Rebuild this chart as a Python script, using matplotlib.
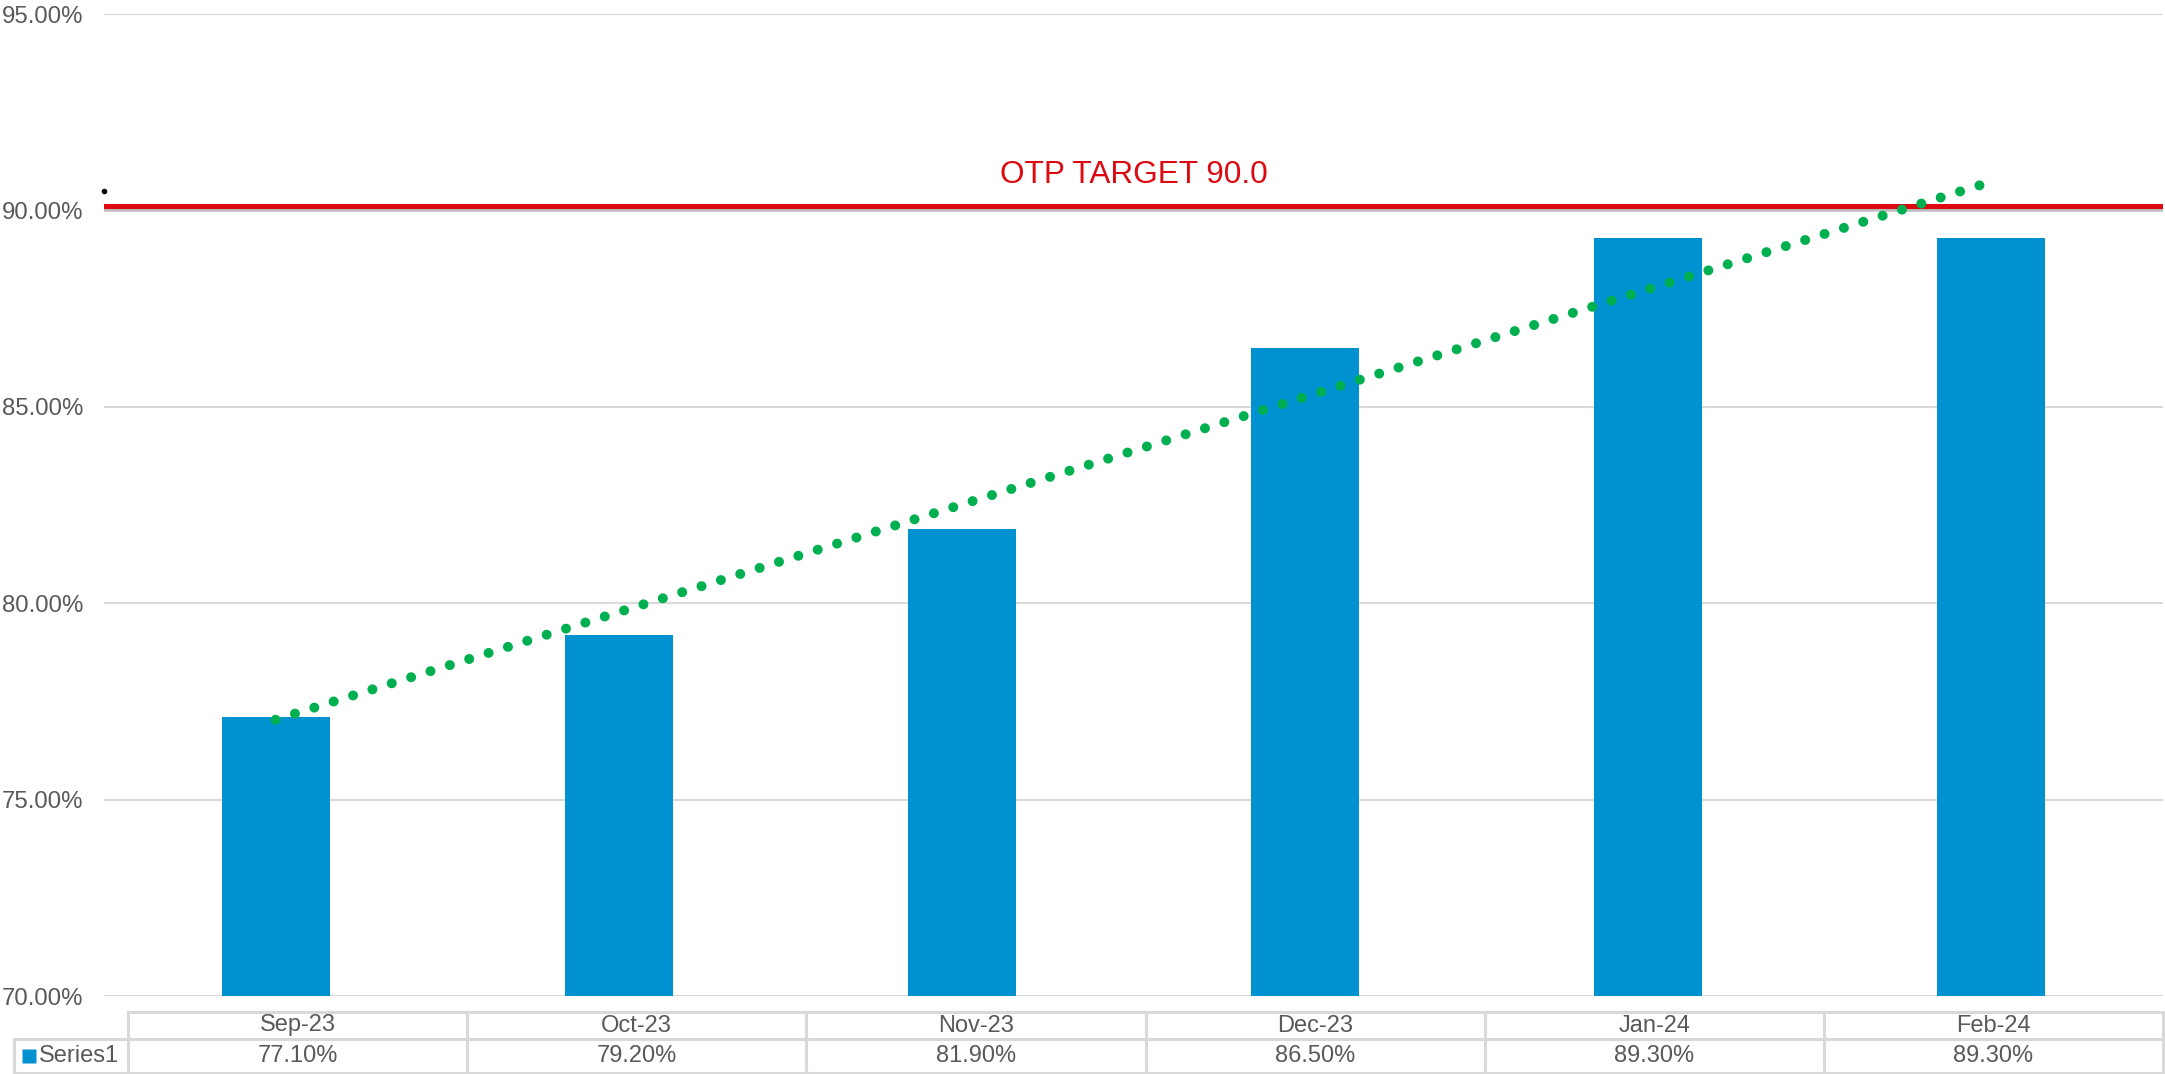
import numpy as np
import matplotlib
matplotlib.use('Agg')
import matplotlib.pyplot as plt
import matplotlib.patheffects as pe

plt.rcParams['font.family'] = ['Liberation Sans', 'DejaVu Sans']
plt.rcParams['lines.scale_dashes'] = False

months = ['Sep-23', 'Oct-23', 'Nov-23', 'Dec-23', 'Jan-24', 'Feb-24']
otp = [77.1, 79.2, 81.9, 86.5, 89.3, 89.3]
series_name = 'Series1'
target = 90.1
target_label = 'OTP TARGET 90.0'
yticks = [70, 75, 80, 85, 90, 95]

W, H = 2165, 1074
grey = '#595959'
grid = '#D9D9D9'
blue = '#0091D0'
red = '#DC0A10'
green = '#00B050'

fig = plt.figure(figsize=(W / 100, H / 100), dpi=100)
ax = fig.add_axes([104 / W, (H - 996) / H, 2059 / W, 982 / H])

x = np.arange(len(months))
ax.bar(x, otp, width=0.315, color=blue, zorder=2)

# linear trendline (Excel style round dots)
k, b = np.polyfit(x, otp, 1)
ax.plot(x, k * x + b, color=green, lw=7.2, linestyle=(0, (0.01, 14.6)),
        dash_capstyle='round', zorder=4)

ax.axhline(target, color=red, lw=3.6, zorder=3,
           path_effects=[pe.SimpleLineShadow(offset=(0, -1.5), shadow_color='grey', alpha=0.35),
                         pe.Normal()])
ax.text(2.5, 90.7, target_label, color=red, fontsize=22.7, ha='center', va='baseline')
ax.plot([-0.5], [90.49], 'o', color='black', ms=3, clip_on=False, zorder=5)

ax.set_xlim(-0.5, len(months) - 0.5)
ax.set_ylim(70, 95)
ax.set_yticks(yticks)
ax.set_yticklabels([f'{v:.2f}%' for v in yticks])
ax.set_xticks([])
ax.tick_params(axis='y', length=0, pad=15, labelsize=17.3, labelcolor=grey)
ax.grid(axis='y', color=grid, lw=1.5, zorder=0)
for s in ax.spines.values():
    s.set_visible(False)

# data table under the chart
tab = fig.add_axes([128 / W, 0, 2035 / W, 62 / H])
tab.set_xlim(0, len(months))
tab.set_ylim(62, 0)
tab.axis('off')
colw = 2035 / len(months)
left = (14 - 128) / colw
lk = dict(color=grid, lw=2.2, clip_on=False)
tab.plot([0, len(months)], [0, 0], **lk)
tab.plot([left, len(months)], [27, 27], **lk)
tab.plot([left, len(months)], [61, 61], **lk)
tab.plot([left, left], [27, 61], **lk)
for i in range(len(months) + 1):
    tab.plot([i, i], [0, 61], **lk)
for i, (m, v) in enumerate(zip(months, otp)):
    tab.text(i + 0.5, 13.5, m, ha='center', va='center', fontsize=17, color=grey)
    tab.text(i + 0.5, 44.5, f'{v:.2f}%', ha='center', va='center', fontsize=17, color=grey)
tab.plot([(28.5 - 128) / colw], [44], 's', color=blue, ms=9.4, mec='none', clip_on=False)
tab.text((39 - 128) / colw, 44.5, series_name, ha='left', va='center',
         fontsize=17, color=grey)

fig.savefig('out.png', dpi=100, facecolor='white')
